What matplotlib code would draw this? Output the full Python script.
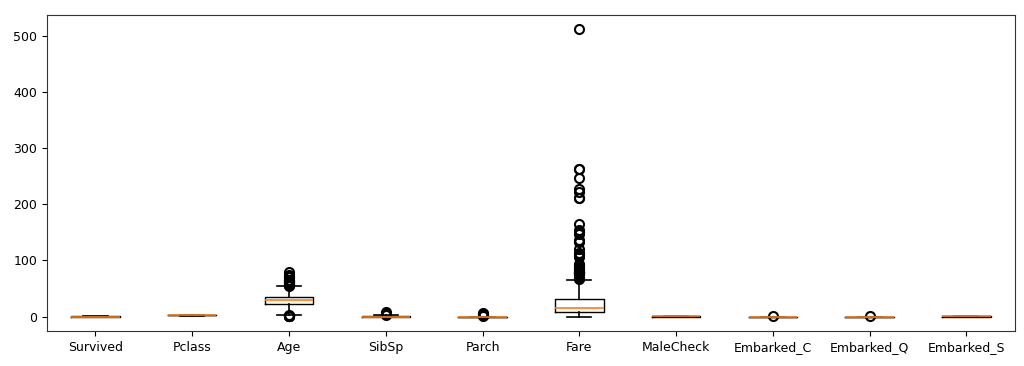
import matplotlib
matplotlib.use("Agg")
import matplotlib.pyplot as plt

# Titanic feature summary (box stats)
columns = ["Survived", "Pclass", "Age", "SibSp", "Parch", "Fare",
           "MaleCheck", "Embarked_C", "Embarked_Q", "Embarked_S"]
q1 = [0, 2, 22.0, 0, 0, 7.91, 0, 0, 0, 0]
med = [0, 3, 29.7, 0, 0, 14.45, 1, 0, 0, 1]
q3 = [1, 3, 35.0, 1, 0, 31.0, 1, 0, 0, 1]
whis_lo = [0, 1, 3.0, 0, 0, 0, 0, 0, 0, 0]
whis_hi = [1, 3, 54.0, 2, 0, 65.0, 1, 0, 0, 1]
fliers = [
    [],
    [],
    [0.42, 0.67, 0.75, 0.83, 0.92, 1, 2,
     55, 55.5, 56, 57, 58, 59, 60, 61, 62, 63, 64, 65, 66, 70, 70.5, 71, 74, 80],
    [3, 4, 5, 8],
    [1, 2, 3, 4, 5, 6],
    [66.6, 69.3, 69.55, 71.0, 71.28, 73.5, 75.25, 76.29, 76.73, 77.29, 77.96,
     78.27, 78.85, 79.2, 79.65, 80.0, 81.86, 82.17, 83.16, 83.48, 86.5, 89.1,
     90.0, 91.08, 93.5, 106.43, 108.9, 110.88, 113.28, 120.0, 133.65, 134.5,
     135.63, 146.52, 151.55, 153.46, 164.87, 211.34, 211.5, 221.78, 227.53,
     247.52, 262.38, 263.0, 512.33],
    [],
    [1],
    [1],
    [],
]

stats = []
for i, name in enumerate(columns):
    stats.append(dict(label=name, q1=q1[i], med=med[i], q3=q3[i],
                      whislo=whis_lo[i], whishi=whis_hi[i], fliers=fliers[i]))

fig = plt.figure(figsize=(10.24, 3.66), dpi=100)
ax = fig.add_axes([0.046, 0.096, 0.945, 0.863])
ax.bxp(stats,
       flierprops=dict(markeredgewidth=1.5, markersize=6.5),
       whiskerprops=dict(linewidth=1.2),
       capprops=dict(linewidth=1.2),
       medianprops=dict(linewidth=1.2))

for sp in ax.spines.values():
    sp.set_edgecolor("#333333")
ax.tick_params(labelsize=9)
fig.savefig("out.png", dpi=100)
